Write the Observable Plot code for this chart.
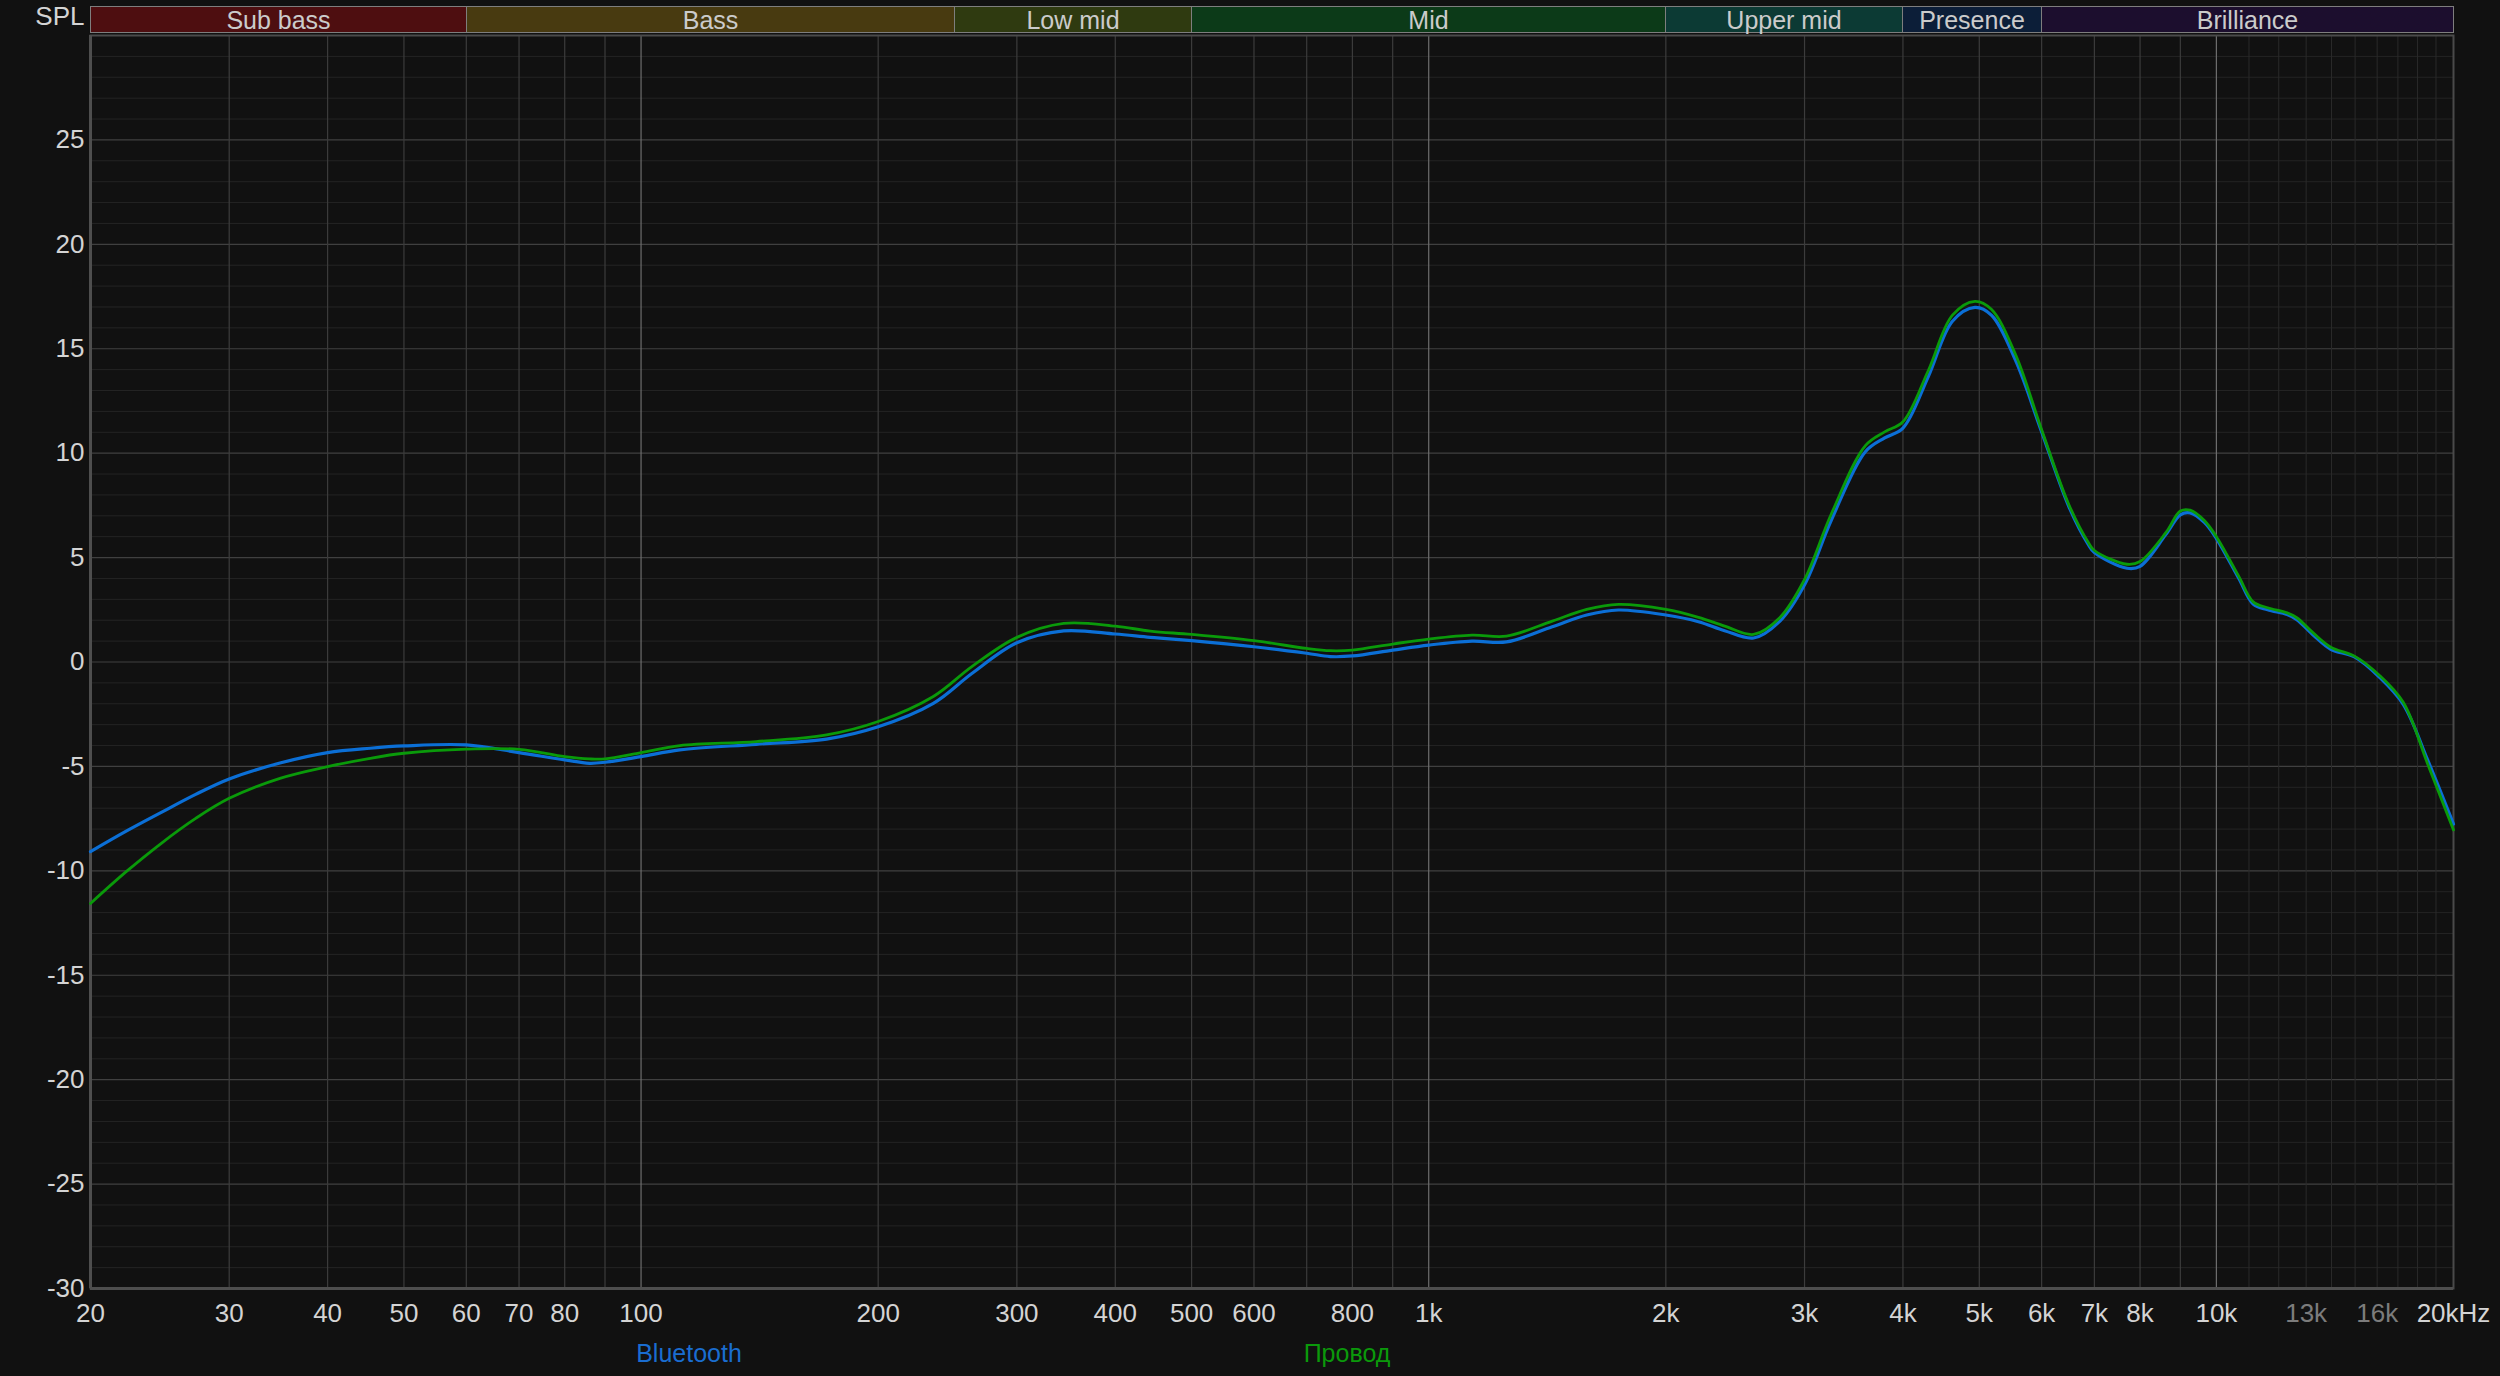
<!DOCTYPE html>
<html><head><meta charset="utf-8">
<script src="https://cdn.jsdelivr.net/npm/d3@7"></script>
<script src="https://cdn.jsdelivr.net/npm/@observablehq/plot@0.6"></script>
<style>
html,body{margin:0;padding:0;background:#111111;}
#wrap{position:relative;width:2500px;height:1376px;background:#111111;font-family:"Liberation Sans",Arial,sans-serif;overflow:hidden;}
#wrap svg{display:block;}
.band{position:absolute;top:6px;height:27px;box-sizing:border-box;border:1px solid #7e7e7e;color:#cbcbcb;font-size:25px;line-height:23px;padding-top:2px;text-align:center;white-space:nowrap;}
.leg{position:absolute;font-size:25px;transform:translate(-50%,-50%);white-space:nowrap;}
</style></head><body><div id="wrap"></div>
<script>
// Frequencies (Hz) shared by both measurements
const freq = [20, 22.2, 24.6, 27.2, 30, 34.8, 40, 45.3, 50, 60, 70, 80, 86, 90, 100, 112, 140, 172, 200, 235, 263, 300, 344, 400, 443, 500, 600, 700, 750, 800, 900, 1000, 1135, 1255, 1435, 1587, 1741, 2000, 2200, 2375, 2585, 2790, 3000, 3245, 3584, 3792, 4000, 4308, 4623, 4937, 5180, 5561, 6000, 6500, 6878, 7000, 7702, 8000, 8625, 9000, 9261, 9660, 10000, 10674, 11134, 11615, 12296, 12650, 13290, 13970, 14990, 16086, 17275, 18544, 20000];
// SPL (dB) — Bluetooth
const bluetooth = [-9.08, -8.10, -7.20, -6.34, -5.60, -4.84, -4.34, -4.13, -4.02, -3.97, -4.34, -4.69, -4.85, -4.80, -4.53, -4.21, -3.94, -3.69, -3.10, -1.98, -0.55, 0.92, 1.49, 1.34, 1.18, 1.02, 0.73, 0.42, 0.26, 0.29, 0.57, 0.81, 1.00, 0.96, 1.69, 2.25, 2.49, 2.25, 1.93, 1.50, 1.15, 1.95, 3.70, 6.80, 10.07, 10.73, 11.20, 13.67, 16.32, 16.98, 16.61, 14.43, 11.02, 7.42, 5.62, 5.24, 4.49, 4.58, 6.10, 7.05, 7.14, 6.67, 5.91, 4.01, 2.78, 2.50, 2.27, 2.03, 1.27, 0.61, 0.23, -0.71, -2.04, -4.69, -7.76];
// SPL (dB) — Провод (wired)
const provod = [-11.56, -10.04, -8.68, -7.49, -6.53, -5.57, -5.01, -4.61, -4.37, -4.17, -4.18, -4.53, -4.64, -4.64, -4.34, -4.00, -3.81, -3.49, -2.85, -1.65, -0.22, 1.18, 1.85, 1.72, 1.48, 1.32, 1.02, 0.65, 0.54, 0.57, 0.86, 1.10, 1.29, 1.24, 1.96, 2.52, 2.76, 2.52, 2.14, 1.72, 1.32, 2.12, 3.95, 7.10, 10.36, 11.02, 11.50, 13.96, 16.61, 17.27, 16.89, 14.71, 11.12, 7.52, 5.72, 5.34, 4.68, 4.81, 6.19, 7.23, 7.27, 6.76, 6.00, 4.11, 2.88, 2.60, 2.35, 2.12, 1.37, 0.71, 0.27, -0.62, -1.94, -4.88, -8.04];

const seriesNames = ["Bluetooth", "Провод"];
const seriesColors = ["#0b6fd6", "#0a9a0a"];
const legendColors = ["#1a6dd0", "#0b990b"];

// Frequency bands
const bandNames = ["Sub bass", "Bass", "Low mid", "Mid", "Upper mid", "Presence", "Brilliance"];
const bandLo = [20, 60, 250, 500, 2000, 4000, 6000];
const bandHi = [60, 250, 500, 2000, 4000, 6000, 20000];
const bandColors = ["#4e0e10", "#483a10", "#2f3a10", "#0c3a18", "#0c3a34", "#0c1e38", "#1c0e2e"];

// Tick labels
const xTicks = [20, 30, 40, 50, 60, 70, 80, 100, 200, 300, 400, 500, 600, 800, 1000, 2000, 3000, 4000, 5000, 6000, 7000, 8000, 10000, 20000];
const xTicksDim = [13000, 16000];
const yTicks = [-30, -25, -20, -15, -10, -5, 0, 5, 10, 15, 20, 25];

// Grid values
const decadeFreq = [100, 1000, 10000];
const gridFreq = [];
for (const d of [10, 100, 1000]) for (let m = 1; m <= 9; m++) { const f = m * d; if (f > 20 && !decadeFreq.includes(f)) gridFreq.push(f); }
const fineFreq = d3.range(11000, 20000, 1000);
const majorDb = d3.range(-25, 30, 5);
const minorDb = d3.range(-29, 30, 1).filter(v => v % 5 !== 0);

const fmt = f => f === 20000 ? "20kHz" : (f >= 1000 ? (f / 1000) + "k" : String(f));
const rows = (vals, name) => freq.map((f, i) => ({f, v: vals[i], s: name}));

const plot = Plot.plot({
  width: 2500, height: 1330,
  marginTop: 35, marginLeft: 90, marginRight: 47, marginBottom: 42,
  style: {background: "#111111", color: "#d4d4d4", fontFamily: "'Liberation Sans', Arial, sans-serif", fontSize: "26px", overflow: "visible"},
  x: {type: "log", domain: [20, 20000]},
  y: {domain: [-30, 30]},
  color: {domain: seriesNames, range: seriesColors},
  marks: [
    Plot.ruleY(minorDb, {stroke: "#242424", strokeWidth: 1}),
    Plot.ruleY(majorDb, {stroke: "#404040", strokeWidth: 1.2}),
    Plot.ruleX(fineFreq, {stroke: "#2a2a2a", strokeWidth: 1}),
    Plot.ruleX(gridFreq, {stroke: "#3c3c3c", strokeWidth: 1.2}),
    Plot.ruleX(decadeFreq, {stroke: "#6e6e6e", strokeWidth: 1.2}),
    Plot.frame({stroke: "#4a4a4a", strokeWidth: 2}),
    Plot.ruleX([20], {stroke: "#4e4e4e", strokeWidth: 3}),
    Plot.ruleY([-30], {stroke: "#4e4e4e", strokeWidth: 3}),
    Plot.axisY(yTicks, {tickSize: 0, tickPadding: 6, label: null, fontSize: 26, tickFormat: d => String(d)}),
    Plot.axisX(xTicks, {tickSize: 0, tickPadding: 15, tickFormat: fmt, label: null, fontSize: 26}),
    Plot.axisX(xTicksDim, {tickSize: 0, tickPadding: 15, tickFormat: fmt, label: null, fontSize: 26, fill: "#7c7c7c"}),
    Plot.text(["SPL"], {text: d => d, frameAnchor: "top-left", textAnchor: "end", lineAnchor: "middle", dx: -6, dy: -19, fontSize: 26}),
    Plot.line(rows(bluetooth, seriesNames[0]), {x: "f", y: "v", stroke: "s", strokeWidth: 3.2, curve: "catmull-rom"}),
    Plot.line(rows(provod, seriesNames[1]), {x: "f", y: "v", stroke: "s", strokeWidth: 2.8, curve: "catmull-rom"})
  ]
});

const wrap = document.getElementById("wrap");
wrap.appendChild(plot);

// Band strip positioned with the plot's own x scale
const sx = plot.scale("x");
bandNames.forEach((name, i) => {
  const x0 = Math.round(sx.apply(bandLo[i]));
  const x1 = Math.round(sx.apply(bandHi[i]));
  const div = document.createElement("div");
  div.className = "band";
  div.style.left = x0 + "px";
  div.style.width = (x1 - x0 + 1) + "px";
  div.style.background = bandColors[i];
  div.textContent = name;
  wrap.appendChild(div);
});

// Legend below the chart
const legendX = [689, 1347];
seriesNames.forEach((name, i) => {
  const el = document.createElement("div");
  el.className = "leg";
  el.style.left = legendX[i] + "px";
  el.style.top = "1353px";
  el.style.color = legendColors[i];
  el.textContent = name;
  wrap.appendChild(el);
});
</script></body></html>
